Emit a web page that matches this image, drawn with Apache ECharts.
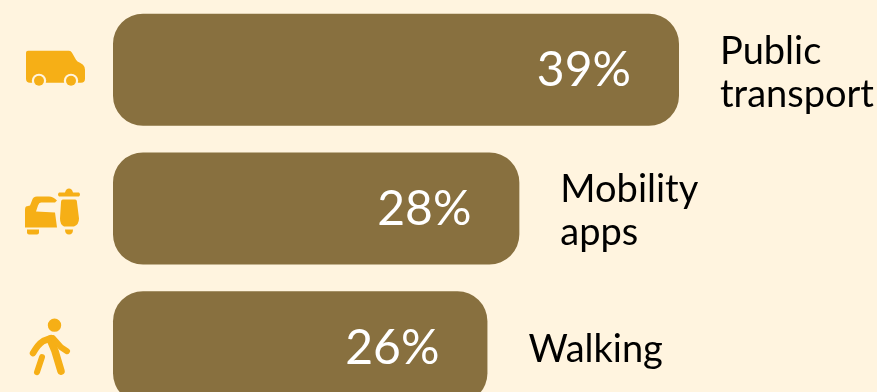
<!DOCTYPE html>
<html><head><meta charset="utf-8">
<style>html,body{margin:0;padding:0;background:#FFF4DF}#c{width:877px;height:392px}</style>
<script src="https://cdn.jsdelivr.net/npm/echarts@6/dist/echarts.min.js"></script>
</head><body><div id="c"></div>
<script>
const categories = ['Public\ntransport', 'Mobility\napps', 'Walking'];
const barValues = [39, 28, 25.8];
const valueLabels = ['39%', '28%', '26%'];

const ICON = '#F6AF16', BG = '#FFF4DF', BAR = '#88703F', FONT = 'Lato, "Open Sans", sans-serif';
// Icon drawings, local to the bar's start point (0 value, band centre)
const fillP = d => ({type:'path', shape:{pathData:d}, style:{fill:ICON}});
const strokeP = (d,w) => ({type:'path', shape:{pathData:d}, style:{fill:'none', stroke:ICON, lineWidth:w, lineCap:'round', lineJoin:'round'}});
const circ = (x,y,r,c) => ({type:'circle', shape:{cx:x,cy:y,r}, style:{fill:c}});
const icons = [
  [
    fillP('M-85,-19 L-44,-19 Q-42,-19 -41,-17 L-37,-10 Q-36,-8 -33,-7 L-30,-5 Q-28,-3 -28,0 L-28,9 Q-28,13 -32,13 L-83,13 Q-87,13 -87,9 L-87,-17 Q-87,-19 -85,-19 Z'),
    circ(-74,11,7.2,BG), circ(-74,11,5,ICON), circ(-42,11,7.2,BG), circ(-42,11,5,ICON)
  ],
  [
    fillP('M-88,1 L-88,19 L-56,19 L-58,4 L-77,3 L-75,-3 Q-74,-6 -72,-6 L-58,-6 L-56,-8 Q-60,-12 -64,-12 L-76,-12 Q-80,-12 -81,-8 L-83,-3 L-87,-2 Q-88,-1 -88,1 Z'),
    fillP('M-86,21 L-74,21 L-74,24 Q-74,26 -76,26 L-84,26 Q-86,26 -86,24 Z'),
    fillP('M-54,-16 L-48,-16 Q-47,-20 -44,-20 Q-41,-20 -40,-16 L-34,-16 Q-32,-14 -34,-12 L-54,-12 Q-56,-14 -54,-16 Z'),
    fillP('M-50,-9 L-38,-9 Q-36,-9 -36,-6 L-34,10 Q-34,16 -39,18 L-49,18 Q-53,16 -53,10 L-52,-6 Q-52,-9 -50,-9 Z'),
    fillP('M-48,21 L-40,21 Q-40,26 -44,26 Q-48,26 -48,21 Z')
  ],
  [
    circ(-58.5,-22,6.7,ICON),
    strokeP('M-62,-9 L-70,-6 Q-75,-3 -80,6',6.5),
    strokeP('M-63,-8 L-58,4 L-52,24',7.5),
    strokeP('M-60,-9 L-52,0 L-46,4',6),
    strokeP('M-71,10 L-76,25',6)
  ]
];

const chart = echarts.init(document.getElementById('c'));
chart.setOption({
  backgroundColor: BG,
  animation: false,
  grid: {left:113, top:0.5, width:566, height:416, outerBoundsMode:'none'},
  xAxis: {type:'value', min:0, max:39, show:false},
  yAxis: {type:'category', inverse:true, data:categories, show:false},
  series: [
    {type:'bar', data:barValues, barWidth:112, barGap:'-100%', clip:false,
     itemStyle:{color:BAR, borderRadius:30},
     label:{show:true, position:'insideRight', distance:48, offset:[0,1], color:'#fff', fontFamily:FONT, fontSize:48,
            formatter:p=>valueLabels[p.dataIndex]}},
    {type:'bar', data:barValues, barWidth:112, barGap:'-100%', clip:false, silent:true,
     itemStyle:{color:'transparent'},
     label:{show:true, position:'right', distance:42, offset:[-1,3], color:'#000', fontFamily:FONT, fontSize:38, lineHeight:43,
            formatter:p=>categories[p.dataIndex]}},
    {type:'custom', clip:false, silent:true, data:categories.map((c,i)=>[0,i]),
     encode:{x:0,y:1},
     renderItem:(params,api)=>{
       const pt = api.coord([0, api.value(1)]);
       return {type:'group', x:pt[0], y:pt[1], children:icons[params.dataIndex]};
     }}
  ]
});
</script></body></html>
